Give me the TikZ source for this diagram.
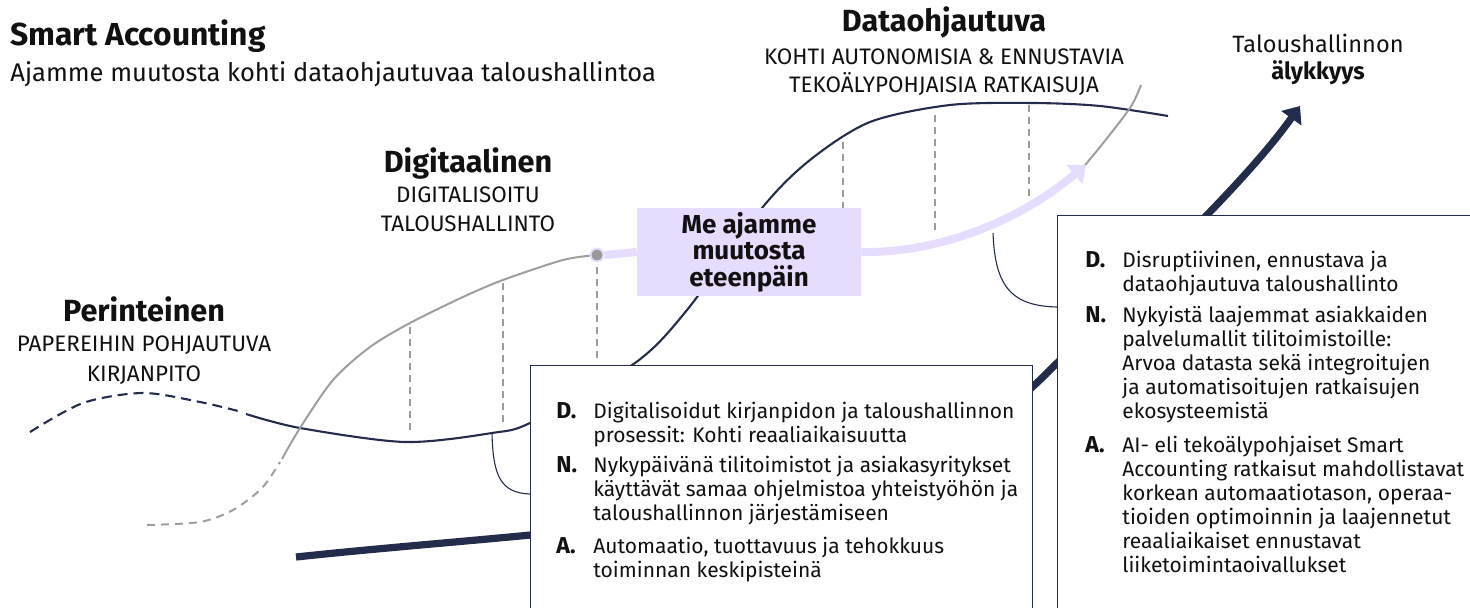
\documentclass[tikz,border=0pt]{standalone}
\usepackage{fontspec}
\setmainfont{Fira Sans}
\usetikzlibrary{arrows.meta}
\definecolor{navy}{HTML}{232D4B}
\definecolor{lav}{HTML}{E6DCFD}
\definecolor{grayc}{HTML}{9E9E9E}
\definecolor{dashc}{HTML}{9C9C9C}
\definecolor{dotgray}{HTML}{9A9A9A}
\definecolor{ink}{HTML}{111111}
\begin{document}
\begin{tikzpicture}[x=0.5pt,y=-0.5pt,
  every node/.style={inner sep=0pt, text=ink},
  navyline/.style={draw=navy, line width=1.05pt},
  grayline/.style={draw=grayc, line width=1pt},
  drop/.style={draw=dashc, line width=0.9pt, dash pattern=on 3.5pt off 2.5pt},
  conn/.style={draw=navy, line width=0.55pt},
  infobox/.style={draw=navy, line width=0.6pt, fill=white, anchor=north west},
  titlef/.style={font=\fontsize{15.9}{18}\selectfont\bfseries, anchor=base west},
  subf/.style={font=\fontsize{12.75}{15}\selectfont, anchor=base west},
  head/.style={font=\fontsize{15.3}{18}\selectfont\bfseries, anchor=base},
  caps/.style={font=\fontsize{11.2}{13}\selectfont, anchor=base},
  body/.style={font=\fontsize{10.5}{12}\selectfont, anchor=base west},
  lbl/.style={font=\fontsize{11.5}{12}\selectfont\bfseries, anchor=base west},
  mebox/.style={fill=lav, minimum width=112pt, minimum height=44pt,
     font=\fontsize{13}{13.25}\selectfont\bfseries, align=center}
]
\useasboundingbox (0,0) rectangle (1470,608);
\clip (0,0) rectangle (1470,608);

% ---- curves ----
\draw[navyline, dash pattern=on 5pt off 3pt] plot[smooth] coordinates {(30,432) (83,403) (143,393) (200,402) (238,411)};
\draw[navyline] plot[smooth] coordinates {(246,414) (300,428) (405,442) (492,433) (532,422) (635,363) (687,310) (762,208) (810,160) (870,122) (950,105) (1033,103) (1100,106) (1168,116)};

\draw[grayline, dash pattern=on 4pt off 3pt] plot[smooth] coordinates {(147,525) (200,522) (233,510) (262,488) (280,462)};
\draw[grayline] plot[smooth] coordinates {(282,459) (300,428) (333,380) (370,347) (410,323) (463,297) (503,280) (563,260) (597,255)};
\draw[grayline] plot[smooth] coordinates {(1075,177) (1100,147) (1130,108) (1141,85)};

% ---- drop lines ----
\draw[drop] (410,327) -- (410,432);
\draw[drop] (503,283) -- (503,423);
\draw[drop] (597,267) -- (597,360);
\draw[drop] (843,142) -- (843,250);
\draw[drop] (935,115) -- (935,233);
\draw[drop] (1029,105) -- (1029,197);

% ---- main thick arrow ----
\draw[navy, line width=3.6pt, -{Triangle[length=7.5pt,width=12pt]}]
  (296,557) .. controls (596,525) and (895,525) .. (1045,375)
  .. controls (1125,295) and (1240,190) .. (1300,106);

% ---- purple box and arrow ----
\node[mebox] (me) at (749,252) {};
\node[circle, fill=dotgray, draw=lav, line width=1pt, minimum size=6.5pt] (dot) at (597,255) {};
\draw[lav, line width=4pt] (dot.east) -- (me.west);
\draw[lav, line width=4pt, -{Triangle[length=7.5pt,width=12pt]}]
  (me.east) .. controls (930,253) and (1010,228) .. (1086,165);
\node[mebox] (metext) at (me) {Me ajamme\\muutosta\\eteenpäin};

% ---- info boxes ----
\node[infobox, minimum width=251pt, minimum height=140pt] (box1) at (530,365) {};
\node[infobox, minimum width=220pt, minimum height=215pt] (box2) at (1057,215) {};

\coordinate (c1s) at (492,433);
\coordinate (c2s) at (993,233);
\draw[conn] (c1s) .. controls (493,475) and (500,493) .. (box1.north west |- 0,494);
\draw[conn] (c2s) .. controls (995,285) and (1010,306) .. (box2.north west |- 0,307);

% ---- titles ----
\node[titlef] (title) at (10,46) {Smart Accounting};
\node[subf] (subtitle) at (10,82) {Ajamme muutosta kohti dataohjautuvaa taloushallintoa};

\node[head] (hdata) at (944,32) {Dataohjautuva};
\node[caps] (cdata1) at (944,65) {KOHTI AUTONOMISIA \& ENNUSTAVIA};
\node[caps] (cdata2) at (944,93) {TEKOÄLYPOHJAISIA RATKAISUJA};

\node[head] (hdig) at (468,173) {Digitaalinen};
\node[caps] (cdig1) at (468,203) {DIGITALISOITU};
\node[caps] (cdig2) at (468,232) {TALOUSHALLINTO};

\node[head] (hper) at (144,322) {Perinteinen};
\node[caps] (cper1) at (144,352) {PAPEREIHIN POHJAUTUVA};
\node[caps] (cper2) at (144,382) {KIRJANPITO};

\node[font=\fontsize{11.8}{13}\selectfont, anchor=base] (tal1) at (1318,53) {Taloushallinnon};
\node[font=\fontsize{11.8}{13}\selectfont\bfseries, anchor=base] (tal2) at (1318,80) {älykkyys};

% ---- box 1 text ----
\node[lbl] (d1) at (556,419) {D.};
\node[body] (d1t) at (593,419) {\parbox[t]{225pt}{Digitalisoidut kirjanpidon ja taloushallinnon\\prosessit: Kohti reaaliaikaisuutta}};
\node[lbl] (n1) at (556,473) {N.};
\node[body] (n1t) at (593,473) {\parbox[t]{225pt}{Nykypäivänä tilitoimistot ja asiakasyritykset\\käyttävät samaa ohjelmistoa yhteistyöhön ja\\taloushallinnon järjestämiseen}};
\node[lbl] (a1) at (556,553) {A.};
\node[body] (a1t) at (593,553) {\parbox[t]{225pt}{Automaatio, tuottavuus ja tehokkuus\\toiminnan keskipisteinä}};

% ---- box 2 text ----
\node[lbl] (d2) at (1085,268) {D.};
\node[body] (d2t) at (1122,268) {\parbox[t]{180pt}{Disruptiivinen, ennustava ja\\dataohjautuva taloushallinto}};
\node[lbl] (n2) at (1085,323) {N.};
\node[body] (n2t) at (1122,323) {\parbox[t]{180pt}{Nykyistä laajemmat asiakkaiden\\palvelumallit tilitoimistoille:\\Arvoa datasta sekä integroitujen\\ja automatisoitujen ratkaisujen\\ekosysteemistä}};
\node[lbl] (a2) at (1085,452) {A.};
\node[body] (a2t) at (1122,452) {\parbox[t]{180pt}{AI- eli tekoälypohjaiset Smart\\Accounting ratkaisut mahdollistavat\\korkean automaatiotason, operaa-\\tioiden optimoinnin ja laajennetut\\reaaliaikaiset ennustavat\\liiketoimintaoivallukset}};
\end{tikzpicture}
\end{document}
